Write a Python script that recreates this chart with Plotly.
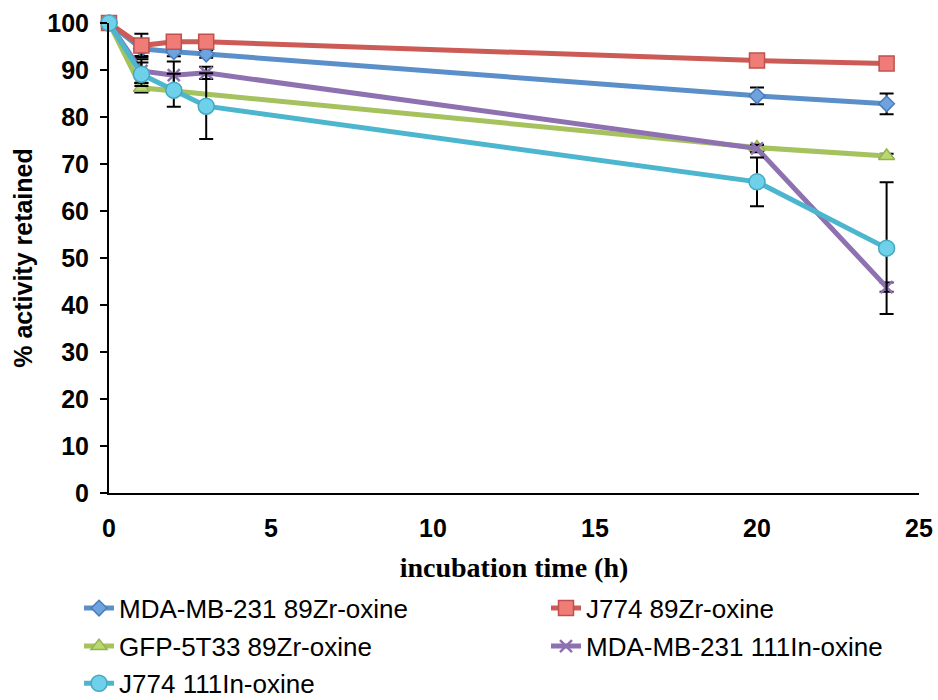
import plotly.graph_objects as go

# incubation time points (h)
time_full = [0, 1, 2, 3, 20, 24]
time_gfp = [0, 1, 20, 24]

# % activity retained, mean and error per series
mda_zr = [100, 94.5, 93.9, 93.4, 84.5, 82.8]
mda_zr_err = [0, 1.5, 1.0, 0.8, 1.8, 2.2]

j774_zr = [100, 95.2, 96.0, 96.0, 92.0, 91.4]
j774_zr_err = [0, 2.5, 0.8, 0.8, 0.5, 0.5]

gfp_zr = [100, 86.2, 73.5, 71.7]
gfp_zr_err = [0, 1.0, 0.5, 0.5]

mda_in = [100, 89.8, 88.9, 89.4, 73.3, 43.8]
mda_in_err = [0, 2.5, 2.9, 1.3, 0.8, 1.0]

j774_in = [100, 89.1, 85.7, 82.3, 66.2, 52.1]
j774_in_err = [0, 2.5, 3.5, 7.0, 5.2, 14.0]

series_names = [
    "MDA-MB-231 89Zr-oxine",
    "J774 89Zr-oxine",
    "GFP-5T33 89Zr-oxine",
    "MDA-MB-231 111In-oxine",
    "J774 111In-oxine",
]

x_ticks = [0, 5, 10, 15, 20, 25]
y_ticks = [0, 10, 20, 30, 40, 50, 60, 70, 80, 90, 100]

series = [
    dict(x=time_full, y=mda_zr, e=mda_zr_err, line="#5B8FC9", fill="#6FA3E0",
         edge="#4A7DB8", symbol="diamond", size=12),
    dict(x=time_full, y=j774_zr, e=j774_zr_err, line="#CC5B55", fill="#F07C77",
         edge="#C0504D", symbol="square", size=15),
    dict(x=time_gfp, y=gfp_zr, e=gfp_zr_err, line="#A5C25F", fill="#B9D872",
         edge="#94B24E", symbol="triangle-up", size=14),
    dict(x=time_full, y=mda_in, e=mda_in_err, line="#8D71B0", fill="#8D71B0",
         edge="#8D71B0", symbol="x-thin-open", size=12),
    dict(x=time_full, y=j774_in, e=j774_in_err, line="#4DB6CF", fill="#6FD0E9",
         edge="#46A9C2", symbol="circle", size=16),
]

# one legend box per entry, laid out as a two-column grid under the axis
legend_ids = ["legend", "legend2", "legend3", "legend4", "legend5"]
legend_pos = [(-0.037, -0.245), (0.5395, -0.245),
              (-0.037, -0.326), (0.5395, -0.326),
              (-0.037, -0.405)]

fig = go.Figure()
for name, s, lid in zip(series_names, series, legend_ids):
    if s["symbol"] == "x-thin-open":
        marker = dict(symbol="x-thin-open", size=s["size"],
                      line=dict(color=s["edge"], width=2.5))
    else:
        marker = dict(symbol=s["symbol"], size=s["size"], color=s["fill"],
                      line=dict(color=s["edge"], width=1.5))
    fig.add_trace(go.Scatter(
        x=s["x"], y=s["y"], name=name, mode="lines+markers",
        line=dict(color=s["line"], width=5),
        marker=marker,
        error_y=dict(type="data", array=s["e"], visible=True,
                     color="black", thickness=2, width=7),
        cliponaxis=False,
        legend=lid,
    ))

legend_font = dict(family="Liberation Sans, Arial, sans-serif", size=26, color="black")
legends = {}
for lid, (lx, ly) in zip(legend_ids, legend_pos):
    legends[lid] = dict(orientation="h", xanchor="left", yanchor="middle",
                        x=lx, y=ly, font=legend_font,
                        bgcolor="rgba(0,0,0,0)", itemwidth=30)

tick_font = dict(family="Liberation Sans, Arial, sans-serif", size=25,
                 color="black", weight="bold")

fig.update_layout(
    width=938, height=700,
    margin=dict(l=109, r=19, t=23, b=207, autoexpand=False),
    paper_bgcolor="white", plot_bgcolor="white",
    showlegend=True,
    **legends,
    xaxis=dict(
        range=[0, 25], tickvals=x_ticks, ticks="", showgrid=False,
        zeroline=False, showline=True, linecolor="black", linewidth=2,
        tickfont=tick_font, ticklabelstandoff=12,
        title=dict(text="incubation time (h)", standoff=16,
                   font=dict(family="Liberation Serif, DejaVu Serif, serif",
                             size=28, color="black", weight="bold")),
    ),
    yaxis=dict(
        range=[0, 100], tickvals=y_ticks, ticks="outside", ticklen=7,
        tickwidth=1.5, tickcolor="black", showgrid=False, zeroline=False,
        showline=True, linecolor="black", linewidth=2,
        tickfont=tick_font, ticklabelstandoff=6,
        title=dict(text="% activity retained", standoff=8,
                   font=dict(family="Liberation Sans, Arial, sans-serif",
                             size=25, color="black", weight="bold")),
    ),
)

fig.write_html("out.html")
